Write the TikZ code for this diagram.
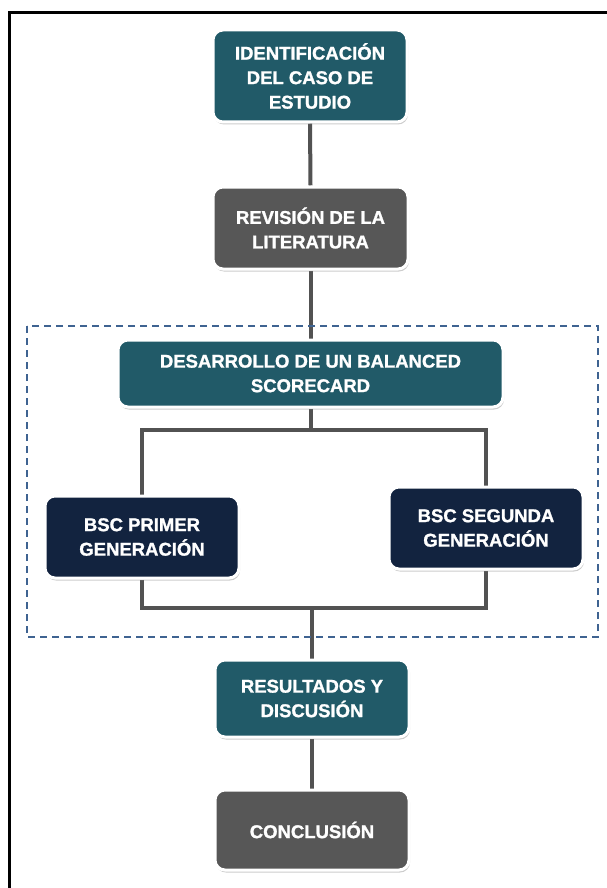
\documentclass[tikz,border=0pt]{standalone}
\usepackage{fontspec}
\setmainfont{Liberation Sans}[BoldFeatures={FakeBold=1.3}]
\usetikzlibrary{shadows,backgrounds}
\definecolor{tealbox}{HTML}{215A68}
\definecolor{graybox}{HTML}{575757}
\definecolor{navybox}{HTML}{12233F}
\definecolor{conn}{HTML}{525252}
\definecolor{dashc}{HTML}{3F6391}
\begin{document}
\begin{tikzpicture}[x=1pt,y=-1pt,
  boxbase/.style={rounded corners=10pt, draw=white, line width=3pt,
    text=white, font=\fontsize{18.5}{24.5}\selectfont\bfseries, align=center,
    inner sep=0pt, drop shadow={opacity=0.4, shadow xshift=1pt, shadow yshift=-2.5pt}},
  tealnode/.style={boxbase, fill=tealbox},
  graynode/.style={boxbase, fill=graybox},
  navynode/.style={boxbase, fill=navybox},
  link/.style={draw=conn, line width=4pt},
]
\useasboundingbox (0,0) rectangle (606,888);
\draw[line width=3pt] (9.5,900) -- (9.5,13) -- (620,13);
\draw[dashc, line width=1.6pt, dash pattern=on 7pt off 5pt] (27,326) rectangle (598,637);

\node[tealnode, minimum width=194pt, minimum height=92pt] (n1) at (310,76) {IDENTIFICACIÓN\\DEL CASO DE\\ESTUDIO};
\node[graynode, minimum width=195pt, minimum height=82pt] (n2) at (310.5,228) {REVISIÓN DE LA\\LITERATURA};
\node[tealnode, minimum width=385pt, minimum height=67pt] (n3) at (310.5,373.5) {DESARROLLO DE UN BALANCED\\SCORECARD};
\node[navynode, minimum width=194pt, minimum height=82pt] (n4) at (142,537) {BSC PRIMER\\GENERACIÓN};
\node[navynode, minimum width=194pt, minimum height=82pt] (n5) at (486,528) {BSC SEGUNDA\\GENERACIÓN};
\node[tealnode, minimum width=194pt, minimum height=77pt] (n6) at (312,698.5) {RESULTADOS Y\\DISCUSIÓN};
\node[graynode, minimum width=194pt, minimum height=80pt] (n7) at (312,830) {CONCLUSIÓN};

\coordinate (ja) at (310.5,430);
\coordinate (jb) at (312,608);

\begin{pgfonlayer}{background}
\draw[link] (n1.south) -- (n2.north);
\draw[link] (n2.south) -- (n3.north);
\draw[link] (n3.south) -- (ja);
\draw[link] (n4.north) -- (n4.north |- ja) -- (n5.north |- ja) -- (n5.north);
\draw[link] (n4.south) -- (n4.south |- jb) -- (n5.south |- jb) -- (n5.south);
\draw[link] (jb) -- (n6.north);
\draw[link] (n6.south) -- (n7.north);
\end{pgfonlayer}
\end{tikzpicture}
\end{document}
